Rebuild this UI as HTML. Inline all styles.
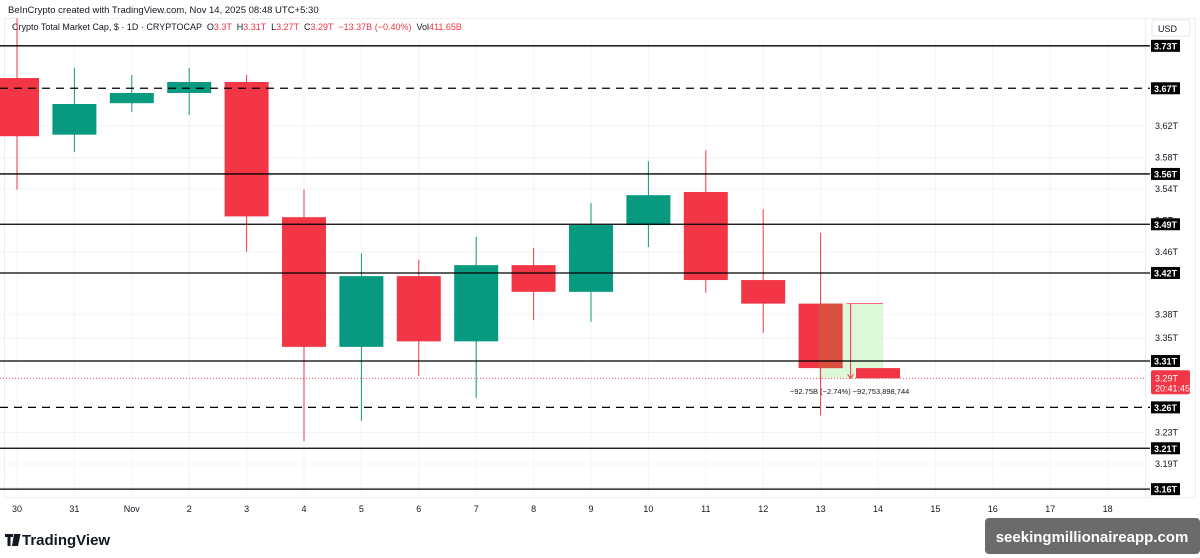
<!DOCTYPE html>
<html><head><meta charset="utf-8"><style>
body{margin:0;background:#fff;font-family:"Liberation Sans",sans-serif;}
#wrap{position:relative;width:1200px;height:558px;overflow:hidden;background:#fff}
svg text{font-family:"Liberation Sans",sans-serif}
</style></head><body>
<div id="wrap">
<svg id="c" width="1200" height="558"></svg>
</div>
<script>
const dates=["30","31","Nov","2","3","4","5","6","7","8","9","10","11","12","13","14","15","16","17","18"];
const opens =[3.681,3.609,3.649,3.662,3.676,3.504,3.339,3.429,3.346,3.443,3.409,3.494,3.536,3.424,3.394,3.312];
const closes=[3.607,3.648,3.662,3.676,3.505,3.339,3.429,3.346,3.443,3.409,3.494,3.532,3.424,3.394,3.312,3.299];
const highs =[3.757,3.694,3.685,3.694,3.685,3.539,3.458,3.450,3.479,3.465,3.522,3.575,3.589,3.514,3.484,3.312];
const lows  =[3.539,3.587,3.638,3.634,3.460,3.219,3.245,3.302,3.274,3.373,3.371,3.466,3.408,3.357,3.252,3.299];
const levels=[3.722,3.668,3.559,3.495,3.433,3.321,3.262,3.210,3.158];
const levelLabels=["3.73T","3.67T","3.56T","3.49T","3.42T","3.31T","3.26T","3.21T","3.16T"];
const levelDashed=[false,true,false,false,false,false,true,false,false];
const tickVals=[3.72,3.62,3.58,3.54,3.50,3.46,3.38,3.35,3.32,3.23,3.19,3.16];
const tickLabels=["3.72T","3.62T","3.58T","3.54T","3.5T","3.46T","3.38T","3.35T","3.32T","3.23T","3.19T","3.16T"];
const lastPrice=3.299;
const y=v=>126+(3.62-v)*786;
const x=i=>17+57.4*i;
const S=document.getElementById('c');
const NS="http://www.w3.org/2000/svg";
function mk(t,a,txt){const e=document.createElementNS(NS,t);for(const k in a)e.setAttribute(k,a[k]);if(txt!==undefined)e.textContent=txt;S.appendChild(e);return e;}
let e;
e=mk('text',{x:8,y:13,'font-size':9.5,fill:'#131722'},'BeInCrypto created with TradingView.com, Nov 14, 2025 08:48 UTC+5:30');

e=mk('text',{x:12,y:30,'font-size':9,fill:'#131722'});

e.innerHTML='Crypto Total Market Cap, $ · 1D · CRYPTOCAP &#160;O<tspan fill="#f23645">3.3T</tspan> &#160;H<tspan fill="#f23645">3.31T</tspan> &#160;L<tspan fill="#f23645">3.27T</tspan> &#160;C<tspan fill="#f23645">3.29T</tspan> &#160;<tspan fill="#f23645">−13.37B (−0.40%)</tspan> &#160;Vol<tspan fill="#f23645">411.65B</tspan>';
e=mk('rect',{x:4.5,y:18.5,width:1191,height:479,fill:'none',stroke:'#eceef2'});

e=mk('line',{x1:1145.5,y1:18,x2:1145.5,y2:497,stroke:'#eceef2'});
e=mk('rect',{x:1152,y:20,width:38,height:16,fill:'#fff',stroke:'#e6e6e6',rx:2});

mk('text',{x:1158,y:32,'font-size':9,fill:'#131722'},'USD');
dates.forEach((d,i)=>{
 e=mk('line',{x1:x(i),y1:38,x2:x(i),y2:497,stroke:'#f3f4f6'});
 
 e=mk('text',{x:x(i),y:512,'font-size':9,fill:'#131722','text-anchor':'middle'},d);
 
});
tickVals.forEach((v,i)=>{
 mk('line',{x1:0,y1:y(v),x2:1145,y2:y(v),stroke:'#f3f4f6'});
 e=mk('text',{x:1155,y:y(v)+3,'font-size':9,fill:'#131722'},tickLabels[i]);
 
});
e=mk('rect',{x:x(14)-2,y:y(3.394),width:x(15)-x(14)+7,height:y(lastPrice)-y(3.394),fill:'#ddf8d8'});

opens.forEach((o,i)=>{
 const c=closes[i],up=c>=o,col=up?'#089981':'#f23645';
 e=mk('line',{x1:x(i),y1:y(highs[i]),x2:x(i),y2:y(lows[i]),stroke:col,'stroke-width':1});
 
 const t=y(Math.max(o,c)),b=y(Math.min(o,c));
 e=mk('rect',{x:x(i)-22,y:t,width:44,height:Math.max(1,b-t),fill:col});
 
});
mk('rect',{x:x(14)-2,y:y(3.394),width:23,height:y(3.312)-y(3.394),fill:'#d9503f'});
mk('line',{x1:x(14)+26,y1:y(3.394),x2:x(15)+5,y2:y(3.394),stroke:'#f23645','stroke-width':0.8});
mk('line',{x1:x(14)+30,y1:y(3.394),x2:x(14)+30,y2:y(lastPrice),stroke:'#f23645','stroke-width':1});
mk('path',{d:`M${x(14)+27} ${y(lastPrice)-4}L${x(14)+30} ${y(lastPrice)}L${x(14)+33} ${y(lastPrice)-4}`,stroke:'#f23645',fill:'none'});
e=mk('text',{x:x(14)+29,y:394,'font-size':7.5,fill:'#131722','text-anchor':'middle'},'−92.75B (−2.74%) −92,753,898,744');

levels.forEach((v,i)=>{
 e=mk('line',{x1:0,y1:y(v),x2:1150,y2:y(v),stroke:'#000','stroke-width':1.3,'stroke-dasharray':levelDashed[i]?'8,6':'none'});
 
 e=mk('rect',{x:1151,y:y(v)-6,width:29,height:12,fill:'#000'});
 
 mk('text',{x:1165.5,y:y(v)+3.5,'font-size':9,fill:'#fff','text-anchor':'middle','font-weight':'bold'},levelLabels[i]);
});
e=mk('line',{x1:0,y1:y(lastPrice),x2:1145,y2:y(lastPrice),stroke:'#f23645','stroke-width':0.8,'stroke-dasharray':'1,2'});

e=mk('rect',{x:1151,y:y(lastPrice)-8,width:39,height:24,fill:'#f23645',rx:2});

mk('text',{x:1155,y:y(lastPrice)+3,'font-size':9,fill:'#fff'},'3.29T');
mk('text',{x:1155,y:y(lastPrice)+13,'font-size':9,fill:'#fff'},'20:41:45');
e=mk('text',{x:22,y:545,'font-size':15,fill:'#131722','font-weight':'bold'},'TradingView');

mk('path',{d:'M5 534h8v3h-2.5v9h-3v-9H5z M14 534h3l-2 12h-3z M17 534h3.5l-2.5 12h-3z',fill:'#131722'});
e=mk('rect',{x:985,y:518,width:215,height:36,fill:'#6b6b6b',rx:4});

mk('text',{x:1092,y:542,'font-size':15,fill:'#fff','font-weight':'bold','text-anchor':'middle'},'seekingmillionaireapp.com');
</script>
</body></html>
